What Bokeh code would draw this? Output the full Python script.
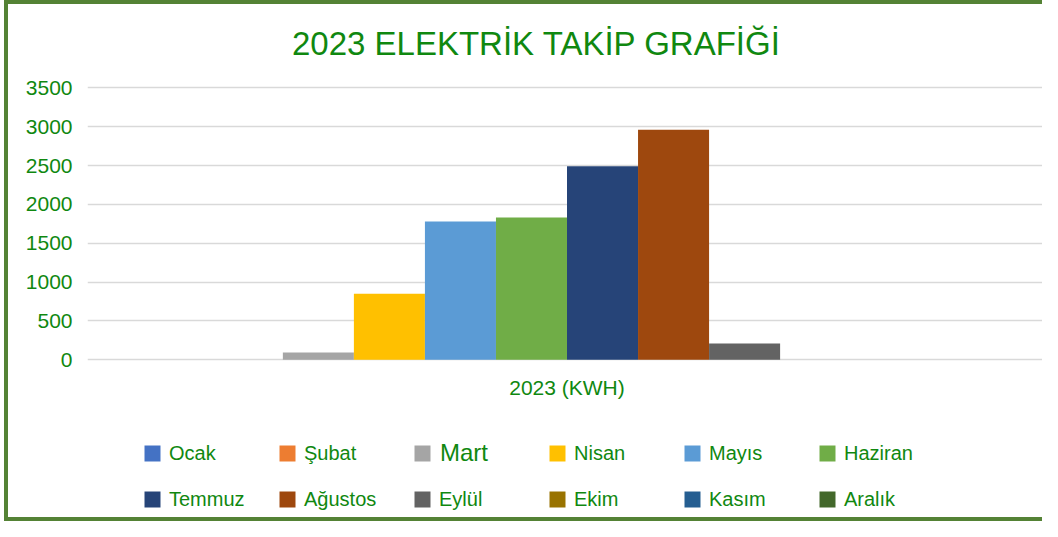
from bokeh.plotting import figure
from bokeh.models import FactorRange, Legend, LegendItem, InlineStyleSheet, FixedTicker, Range1d
from bokeh.core.properties import value
from bokeh.transform import dodge
from bokeh.embed import file_html
from bokeh.resources import INLINE

# ---- data ----
category = "2023 (KWH)"
months = ["Ocak", "Şubat", "Mart", "Nisan", "Mayıs", "Haziran",
          "Temmuz", "Ağustos", "Eylül", "Ekim", "Kasım", "Aralık"]
values = [0, 0, 95, 850, 1780, 1830, 2490, 2960, 210, 0, 0, 0]
colors = ["#4472C4", "#ED7D31", "#A5A5A5", "#FFC000", "#5B9BD5", "#70AD47",
          "#264478", "#9E480E", "#636363", "#997300", "#255E91", "#43682B"]
y_ticks = [0, 500, 1000, 1500, 2000, 2500, 3000, 3500]
title_text = "2023 ELEKTRİK TAKİP GRAFİĞİ"

GREEN = "#108810"
FONT = "Liberation Sans"

# ---- layout constants (pixels) ----
PX_PER_UNIT = 38.86 / 500.0          # vertical scale of the value axis
ZERO_FROM_TOP = 355.3                 # zero line below top of the frame
FRAME_H = 521
Y_END = ZERO_FROM_TOP / PX_PER_UNIT
Y_START = Y_END - FRAME_H / PX_PER_UNIT
TEXT_SHIFT = 9.5                      # text glyph baseline correction


def y_at(px_from_top):
    return Y_END - (px_from_top - TEXT_SHIFT) / PX_PER_UNIT


border_css = InlineStyleSheet(css=""":host {
  box-sizing: border-box;
  margin-left: 4px;
  border-left: 4px solid #548235;
  border-top: 4px solid #548235;
  border-bottom: 4px solid #548235;
}""")

p = figure(width=1038, height=521,
           x_range=FactorRange(factors=[category], range_padding=0),
           y_range=Range1d(Y_START, Y_END),
           output_backend="svg", toolbar_location=None,
           min_border_left=79, min_border_right=0,
           min_border_top=0, min_border_bottom=0,
           stylesheets=[border_css])

n = len(months)
w = 1.0 / (n + 1.5)
items = []
for i, (m, v, c) in enumerate(zip(months, values, colors)):
    r = p.vbar(x=dodge("x", (i - (n - 1) / 2) * w, range=p.x_range),
               top="top", width=w, bottom=0,
               source=dict(x=[category], top=[v]),
               fill_color=c, line_color=None)
    items.append(LegendItem(label=(" " if m == "Mart" else m), renderers=[r]))

# chart title
p.text(x=[category], y=[y_at(48)], text=[title_text], x_offset=-30.5,
       text_align="center", text_baseline="alphabetic", text_font=value(FONT),
       text_font_size="33px", text_color=GREEN)

# category label under the bars
p.text(x=[category], y=[y_at(392.7)], text=[category], text_align="center",
       text_baseline="alphabetic", text_font=value(FONT),
       text_font_size="21px", text_color=GREEN)

# "Mart" legend label is drawn a little larger in the original
p.text(x=[category], y=[y_at(457)], text=[months[2]], x_offset=-127,
       text_align="left", text_baseline="alphabetic", text_font=value(FONT),
       text_font_size="24px", text_color=GREEN)

p.xaxis.visible = False
p.xgrid.visible = False
p.ygrid.grid_line_color = "#d9d9d9"
p.ygrid.grid_line_width = 1.5
p.ygrid.ticker = FixedTicker(ticks=y_ticks)
p.yaxis.ticker = FixedTicker(ticks=y_ticks)
ax = p.yaxis
ax.axis_line_color = None
ax.major_tick_line_color = None
ax.minor_tick_line_color = None
ax.major_tick_out = 0
ax.major_tick_in = 0
ax.minor_tick_out = 0
ax.major_label_text_font = FONT
ax.major_label_text_font_size = "21px"
ax.major_label_text_color = GREEN
ax.major_label_standoff = 15
p.outline_line_color = None

legend = Legend(items=items, location=(55, 14.5), orientation="horizontal",
                ncols=6, glyph_width=20, glyph_height=20, label_standoff=7,
                label_width=85, label_height=23, spacing=23, padding=0, margin=0,
                border_line_color=None, background_fill_alpha=0,
                label_text_font=FONT, label_text_font_size="20px",
                label_text_color=GREEN)
p.add_layout(legend, "center")

open("out.html", "w").write(file_html(p, INLINE))
